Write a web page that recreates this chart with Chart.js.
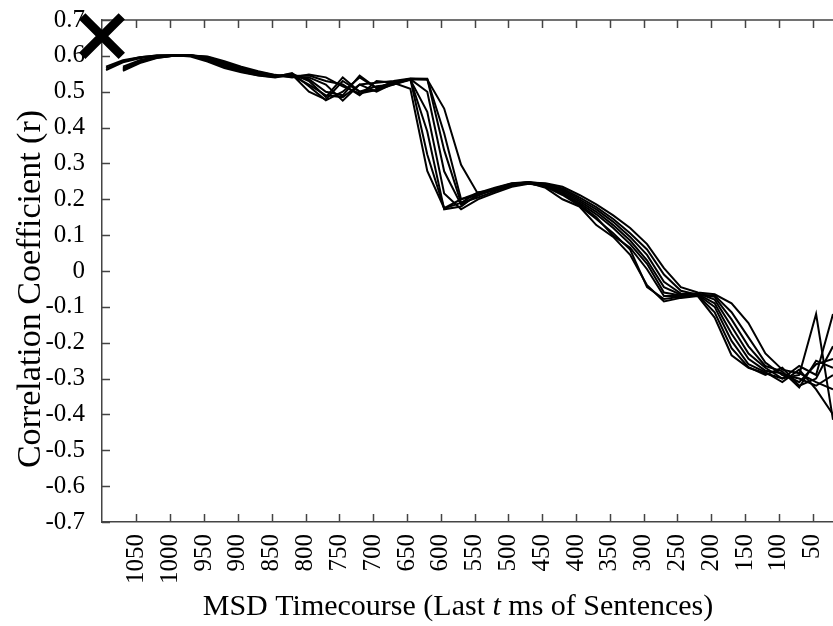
<!DOCTYPE html>
<html>
<head>
<meta charset="utf-8">
<script src="https://cdn.jsdelivr.net/npm/chart.js@4.4.1/dist/chart.umd.min.js"></script>
<style>
  html, body { margin: 0; padding: 0; background: #fff; }
  #wrap { width: 833px; height: 626px; }
</style>
</head>
<body>
<div id="wrap"><canvas id="corrChart" width="833" height="626"></canvas></div>
<script>
// time points (ms before sentence end)
var timeMs = [1095, 1070, 1045, 1020, 995, 970, 945, 920, 895, 870, 845, 820, 795, 770, 745, 720, 695, 670, 645, 620,
              595, 570, 545, 520, 495, 470, 445, 420, 395, 370, 345, 320, 295, 270, 245, 220, 195, 170, 145, 120, 95, 70, 45, 20];

// one array per curve (r values)
var run1 = [0.565, 0.585, 0.596, 0.601, 0.602, 0.598, 0.584, 0.566, 0.554, 0.545, 0.540, 0.548, 0.500, 0.478, 0.530, 0.500, 0.505, 0.525, 0.508, 0.279,
            0.175, 0.200, 0.212, 0.228, 0.240, 0.246, 0.232, 0.200, 0.180, 0.128, 0.095, 0.045, -0.040, -0.085, -0.075, -0.070, -0.130, -0.235, -0.270, -0.285, -0.300, -0.290, -0.120, -0.415];
var run2 = [0.570, 0.588, 0.596, 0.601, 0.602, 0.600, 0.587, 0.569, 0.556, 0.546, 0.541, 0.552, 0.515, 0.476, 0.500, 0.540, 0.510, 0.528, 0.535, 0.325,
            0.175, 0.190, 0.205, 0.222, 0.238, 0.245, 0.235, 0.212, 0.182, 0.145, 0.105, 0.060, -0.045, -0.078, -0.072, -0.068, -0.115, -0.215, -0.268, -0.290, -0.270, -0.320, -0.300, -0.210];
var run3 = [0.560, 0.582, 0.593, 0.600, 0.602, 0.601, 0.590, 0.572, 0.558, 0.548, 0.542, 0.545, 0.520, 0.490, 0.485, 0.520, 0.500, 0.523, 0.534, 0.389,
            0.172, 0.180, 0.215, 0.225, 0.242, 0.248, 0.237, 0.216, 0.186, 0.150, 0.098, 0.065, 0.005, -0.070, -0.070, -0.066, -0.100, -0.195, -0.260, -0.282, -0.310, -0.275, -0.330, -0.400];
var run4 = [null, 0.570, 0.588, 0.598, 0.601, 0.602, 0.592, 0.575, 0.561, 0.550, 0.543, 0.550, 0.530, 0.485, 0.540, 0.500, 0.515, 0.520, 0.533, 0.444,
            0.216, 0.172, 0.200, 0.218, 0.235, 0.243, 0.238, 0.218, 0.190, 0.158, 0.120, 0.075, 0.020, -0.060, -0.068, -0.064, -0.090, -0.175, -0.245, -0.278, -0.285, -0.310, -0.260, -0.245];
var run5 = [null, 0.566, 0.586, 0.597, 0.601, 0.602, 0.594, 0.578, 0.563, 0.551, 0.544, 0.546, 0.535, 0.500, 0.490, 0.545, 0.510, 0.527, 0.535, 0.500,
            0.278, 0.185, 0.210, 0.230, 0.244, 0.247, 0.240, 0.222, 0.195, 0.165, 0.128, 0.085, 0.030, -0.045, -0.066, -0.062, -0.080, -0.155, -0.230, -0.270, -0.300, -0.265, -0.290, -0.120];
var run6 = [null, 0.563, 0.584, 0.596, 0.600, 0.602, 0.595, 0.580, 0.565, 0.553, 0.545, 0.541, 0.540, 0.520, 0.475, 0.520, 0.525, 0.530, 0.537, 0.536,
            0.337, 0.190, 0.220, 0.225, 0.240, 0.246, 0.242, 0.226, 0.200, 0.172, 0.137, 0.095, 0.045, -0.030, -0.063, -0.064, -0.072, -0.135, -0.210, -0.265, -0.280, -0.325, -0.250, -0.270];
var run7 = [null, 0.560, 0.582, 0.595, 0.600, 0.602, 0.597, 0.582, 0.567, 0.555, 0.546, 0.544, 0.545, 0.530, 0.520, 0.490, 0.530, 0.525, 0.534, 0.535,
            0.384, 0.200, 0.218, 0.232, 0.245, 0.248, 0.243, 0.230, 0.205, 0.178, 0.145, 0.105, 0.060, -0.010, -0.055, -0.066, -0.068, -0.115, -0.185, -0.255, -0.290, -0.300, -0.320, -0.290];
var run8 = [null, 0.558, 0.580, 0.594, 0.600, 0.601, 0.598, 0.585, 0.570, 0.557, 0.547, 0.540, 0.548, 0.540, 0.515, 0.495, 0.505, 0.520, 0.536, 0.534,
            0.453, 0.296, 0.215, 0.228, 0.243, 0.247, 0.245, 0.235, 0.212, 0.186, 0.155, 0.120, 0.075, 0.008, -0.045, -0.060, -0.065, -0.090, -0.145, -0.230, -0.275, -0.285, -0.310, -0.330];

// the big X marker in the corner
var markerPoint = [{ x: 1101, y: 0.655 }];

// axis ticks
var xTicks = [1050, 1000, 950, 900, 850, 800, 750, 700, 650, 600, 550, 500, 450, 400, 350, 300, 250, 200, 150, 100, 50];
var yTicks = [0.7, 0.6, 0.5, 0.4, 0.3, 0.2, 0.1, 0, -0.1, -0.2, -0.3, -0.4, -0.5, -0.6, -0.7];

var serif = '"Liberation Serif", "Times New Roman", serif';
Chart.defaults.font.family = serif;
Chart.defaults.color = '#000';

var runs = [run1, run2, run3, run4, run5, run6, run7, run8];
var datasets = [{
    type: 'scatter',
    data: markerPoint,
    pointStyle: 'crossRot',
    pointRadius: 28,
    borderWidth: 9,
    borderColor: '#000',
    clip: false
}];
runs.forEach(function(run) {
    datasets.push({
        data: timeMs.map(function(t, i) { return { x: t, y: run[i] }; }),
        borderColor: '#000',
        borderWidth: 2,
        pointRadius: 0,
        tension: 0,
        fill: false,
        spanGaps: false
    });
});

function drawParts(ctx, parts, size) {
    var total = 0;
    parts.forEach(function(p) {
        ctx.font = p[1] + ' ' + size + 'px ' + serif;
        total += ctx.measureText(p[0]).width;
    });
    var px = -total / 2;
    parts.forEach(function(p) {
        ctx.font = p[1] + ' ' + size + 'px ' + serif;
        ctx.fillText(p[0], px, 0);
        px += ctx.measureText(p[0]).width;
    });
}

// inward tick marks, top frame line and the two axis titles
var frameTicks = {
    id: 'frameTicks',
    beforeDatasetsDraw: function(chart) {
        var ctx = chart.ctx, a = chart.chartArea, x = chart.scales.x, y = chart.scales.y;
        ctx.save();
        ctx.strokeStyle = '#444';
        ctx.lineWidth = 1.5;
        ctx.beginPath();
        ctx.moveTo(a.left, a.top);
        ctx.lineTo(a.right, a.top);
        x.ticks.forEach(function(t) {
            var px = Math.round(x.getPixelForValue(t.value)) + 0.5;
            ctx.moveTo(px, a.bottom);
            ctx.lineTo(px, a.bottom - 8);
            ctx.moveTo(px, a.top);
            ctx.lineTo(px, a.top + 8);
        });
        y.ticks.forEach(function(t) {
            var py = Math.round(y.getPixelForValue(t.value)) + 0.5;
            ctx.moveTo(a.left, py);
            ctx.lineTo(a.left + 8, py);
        });
        ctx.stroke();
        ctx.restore();
    },
    afterDraw: function(chart) {
        var ctx = chart.ctx;
        ctx.save();
        ctx.fillStyle = '#000';
        ctx.textBaseline = 'middle';
        ctx.textAlign = 'left';
        ctx.translate(458, 607);
        drawParts(ctx, [['MSD Timecourse (Last ', 'normal'], ['t', 'italic'], [' ms of Sentences)', 'normal']], 30);
        ctx.restore();

        ctx.save();
        ctx.fillStyle = '#000';
        ctx.textBaseline = 'middle';
        ctx.textAlign = 'left';
        ctx.translate(31, 289);
        ctx.rotate(-Math.PI / 2);
        drawParts(ctx, [['Correlation Coefficient (r)', 'normal']], 34);
        ctx.restore();
    }
};

var ctx = document.getElementById('corrChart').getContext('2d');
var corrChart = new Chart(ctx, {
    type: 'line',
    data: { datasets: datasets },
    plugins: [frameTicks],
    options: {
        responsive: false,
        animation: false,
        events: [],
        layout: { autoPadding: false, padding: { top: 20, right: 0, left: 0, bottom: 0 } },
        plugins: {
            legend: { display: false },
            tooltip: { enabled: false }
        },
        scales: {
            x: {
                type: 'linear',
                reverse: true,
                min: 20,
                max: 1101,
                afterBuildTicks: function(scale) {
                    scale.ticks = xTicks.map(function(v) { return { value: v }; });
                },
                afterFit: function(scale) {
                    scale.height = 104;
                    scale.paddingLeft = 0;
                    scale.paddingRight = 0;
                },
                grid: { display: false },
                border: { display: true, color: '#444', width: 1.5 },
                ticks: {
                    minRotation: 90,
                    maxRotation: 90,
                    autoSkip: false,
                    padding: 4,
                    font: { size: 25 },
                    color: '#000',
                    callback: function(v) { return String(v); }
                }
            },
            y: {
                min: -0.7,
                max: 0.7,
                afterBuildTicks: function(scale) {
                    scale.ticks = yTicks.map(function(v) { return { value: v }; });
                },
                afterFit: function(scale) {
                    scale.width = 102;
                    scale.paddingTop = 0;
                    scale.paddingBottom = 0;
                },
                grid: { display: false },
                border: { display: true, color: '#444', width: 1.5 },
                ticks: {
                    padding: 9,
                    font: { size: 25 },
                    color: '#000',
                    callback: function(v) { return String(Math.round(v * 10) / 10); }
                }
            }
        }
    }
});
</script>
</body>
</html>
